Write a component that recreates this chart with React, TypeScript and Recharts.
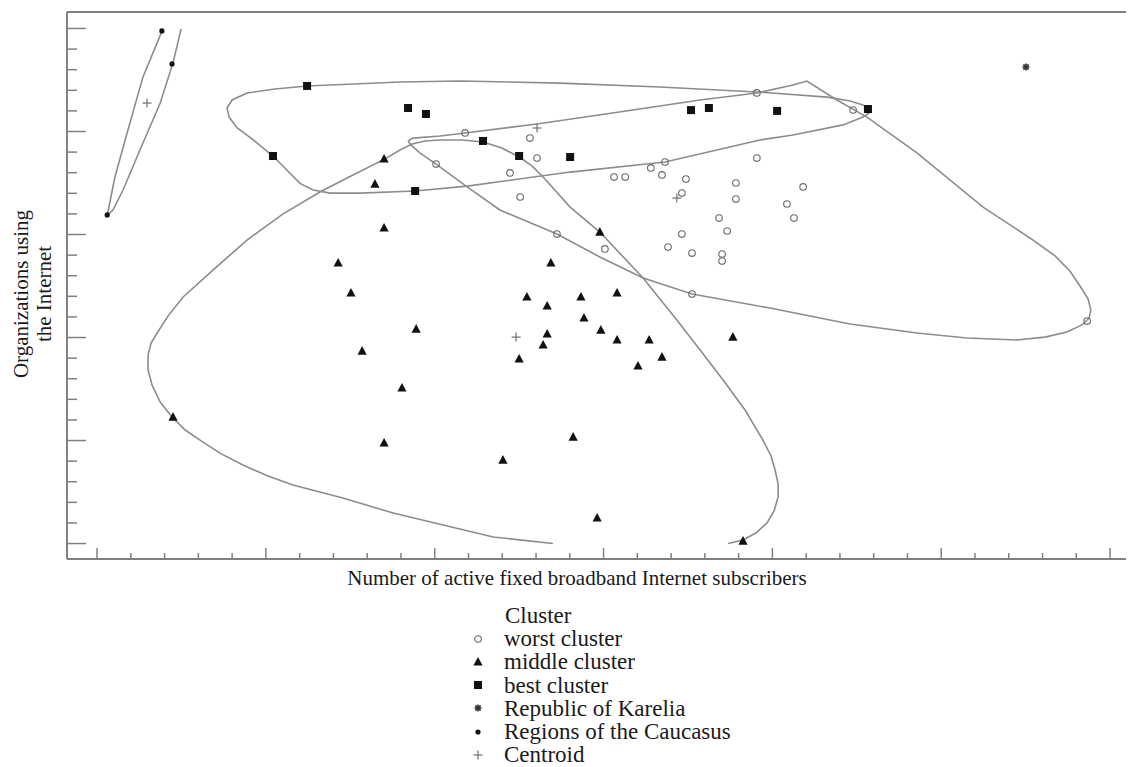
import { ScatterChart, Scatter, XAxis, YAxis } from "recharts";

const FRAME = "#808080";
const HULL = "#8c8c8c";
const INK = "#111111";
const SERIF = '"Liberation Serif", "Times New Roman", Times, serif';

// axis units: one minor tick = 1 (the original prints no tick labels)
const xTicks = [0, 1, 2, 3, 4, 5, 6, 7, 8, 9, 10, 11, 12, 13, 14, 15, 16, 17, 18, 19, 20, 21, 22, 23, 24, 25, 26, 27, 28, 29, 30];
const yTicks = [0, 1, 2, 3, 4, 5, 6, 7, 8, 9, 10, 11, 12, 13, 14, 15, 16, 17, 18, 19, 20, 21, 22, 23, 24, 25];
const xDomain: [number, number] = [-0.89, 30.62];
const yDomain: [number, number] = [-0.75, 25.8];

const worstCluster: [number, number][] = [
  [10.9, 19.93], [10.04, 18.42], [12.82, 19.68], [13.03, 18.71], [12.23, 17.99],
  [12.53, 16.82], [13.62, 15.02], [15.04, 14.3], [15.31, 17.79], [15.64, 17.79],
  [16.4, 18.23], [16.73, 17.89], [16.82, 18.52], [17.44, 17.69], [17.32, 17.01],
  [17.32, 15.02], [16.91, 14.39], [17.62, 14.1], [18.42, 15.8], [18.66, 15.17],
  [18.51, 14.05], [18.51, 13.71], [18.92, 17.5], [18.92, 16.72], [19.54, 18.71],
  [20.43, 16.48], [20.64, 15.8], [20.91, 17.31], [19.54, 21.87], [17.62, 12.11],
  [22.39, 21.04], [29.32, 10.8],
];

const middleCluster: [number, number][] = [
  [8.5, 18.67], [8.23, 17.45], [8.5, 15.32], [7.14, 13.62], [7.52, 12.16],
  [7.85, 9.34], [9.45, 10.41], [9.03, 7.55], [2.25, 6.14], [8.5, 4.88],
  [12.02, 4.05], [13.44, 13.62], [12.73, 11.97], [13.33, 11.53], [14.33, 11.97],
  [15.4, 12.16], [14.42, 10.95], [14.92, 10.36], [13.33, 10.17], [13.21, 9.64],
  [15.4, 9.88], [16.35, 9.88], [12.5, 8.96], [16.73, 9.05], [16.02, 8.62],
  [18.83, 10.02], [14.89, 15.12], [14.1, 5.17], [14.81, 1.24], [19.13, 0.12],
];

const bestCluster: [number, number][] = [
  [6.22, 22.21], [9.21, 21.14], [9.74, 20.85], [5.21, 18.81], [11.43, 19.54],
  [12.5, 18.81], [14.01, 18.76], [9.42, 17.11], [17.59, 21.04], [18.12, 21.14],
  [20.14, 21.0], [22.83, 21.09],
];

const karelia: [number, number][] = [[27.51, 23.13]];

const caucasus: [number, number][] = [[1.92, 24.88], [2.22, 23.28], [0.3, 15.95]];

const centroids: [number, number][] = [[1.48, 21.38], [13.03, 20.17], [17.17, 16.77], [12.41, 10.02]];

// cluster outlines
const caucasusHull: [number, number][] = [
  [1.95, 24.98], [1.36, 22.65], [0.89, 19.93], [0.53, 17.79], [0.3, 15.92],
  [0.47, 16.19], [0.77, 17.16], [1.27, 19.1], [1.87, 21.38], [2.25, 23.33], [2.49, 24.98],
];

const bestHull: [number, number][] = [
  [10.75, 22.45], [13.71, 22.35], [16.67, 22.16], [19.54, 21.92], [21.62, 21.67],
  [22.3, 21.48], [22.68, 21.29], [22.86, 21.09], [22.86, 20.9], [22.68, 20.7],
  [22.39, 20.51], [22.09, 20.32], [20.61, 19.83], [19.63, 19.59], [16.82, 18.52],
  [14.01, 18.03], [10.96, 17.35], [9.42, 17.11], [7.79, 17.01], [6.9, 17.01],
  [6.4, 17.16], [6.01, 17.48], [5.21, 18.81], [4.56, 19.68], [4.15, 20.17],
  [3.91, 20.7], [3.85, 21.14], [4.0, 21.53], [4.44, 21.87], [5.27, 22.06],
  [6.22, 22.21], [8.97, 22.4], [10.75, 22.45],
];

const worstHull: [number, number][] = [
  [9.21, 19.54], [9.36, 19.68], [10.16, 19.78], [10.9, 19.93], [13.03, 20.36],
  [15.87, 21.04], [17.86, 21.53], [19.54, 21.87], [20.61, 22.26], [21.02, 22.45],
  [21.91, 21.53], [22.8, 20.7], [24.28, 18.96], [26.24, 16.33], [27.72, 14.73],
  [28.37, 13.96], [28.81, 13.23], [29.11, 12.5], [29.35, 11.87], [29.43, 11.33],
  [29.38, 10.95], [29.17, 10.61], [28.72, 10.27], [28.07, 10.02], [27.24, 9.88],
  [25.76, 9.98], [24.28, 10.22], [22.3, 10.66], [19.93, 11.43], [17.62, 12.11],
  [16.17, 12.89], [14.89, 13.91], [13.62, 15.02], [11.93, 16.19], [10.96, 17.31],
  [10.04, 18.42], [9.56, 18.96], [9.3, 19.34], [9.21, 19.54],
];

const middleHull: [number, number][] = [
  [13.5, 0], [11.73, 0.32], [10.25, 0.9], [8.77, 1.48], [7.28, 2.21],
  [5.8, 2.84], [5.06, 3.28], [4.32, 3.81], [3.64, 4.39], [3.05, 5.02],
  [2.61, 5.51], [2.22, 6.14], [1.87, 6.87], [1.63, 7.69], [1.51, 8.42],
  [1.51, 9.15], [1.6, 9.73], [1.78, 10.22], [2.1, 11.04], [2.55, 11.97],
  [3.44, 13.28], [4.44, 14.73], [5.51, 16.0], [6.6, 17.06], [7.58, 17.89],
  [8.53, 18.67], [8.97, 19.1], [9.33, 19.39], [9.71, 19.54], [10.16, 19.59],
  [10.81, 19.59], [11.43, 19.49], [11.99, 19.2], [12.5, 18.76], [12.88, 18.33],
  [13.21, 17.79], [14.01, 16.33], [14.89, 15.12], [16.17, 12.89], [17.17, 10.85],
  [17.86, 9.39], [18.54, 7.94], [19.19, 6.48], [19.72, 5.02], [19.96, 4.25],
  [20.08, 3.57], [20.17, 2.89], [20.17, 2.26], [20.05, 1.58], [19.84, 1.0],
  [19.51, 0.51], [19.13, 0.17], [18.69, 0],
];

const pts = (arr: [number, number][]) => arr.map(([x, y]) => ({ x, y }));

const OpenCircle = ({ cx, cy }: any) => (
  <circle cx={cx} cy={cy} r={3.3} fill="none" stroke="#6a6a6a" strokeWidth={1.1} />
);
const Triangle = ({ cx, cy }: any) => (
  <path d={`M${cx},${cy - 5}L${cx + 4.6},${cy + 3.6}L${cx - 4.6},${cy + 3.6}Z`} fill={INK} />
);
const Square = ({ cx, cy }: any) => <rect x={cx - 4} y={cy - 4} width={8} height={8} fill={INK} />;
const Dot = ({ cx, cy }: any) => <circle cx={cx} cy={cy} r={2.6} fill={INK} />;
const Asterisk = ({ cx, cy }: any) => (
  <g stroke="#333" strokeWidth={1.6}>
    <line x1={cx - 3.5} x2={cx + 3.5} y1={cy} y2={cy} />
    <line x1={cx} x2={cx} y1={cy - 3.5} y2={cy + 3.5} />
    <line x1={cx - 2.6} x2={cx + 2.6} y1={cy - 2.6} y2={cy + 2.6} />
    <line x1={cx - 2.6} x2={cx + 2.6} y1={cy + 2.6} y2={cy - 2.6} />
  </g>
);
const Plus = ({ cx, cy }: any) => (
  <g stroke="#7a7a7a" strokeWidth={1.3}>
    <line x1={cx - 4.5} x2={cx + 4.5} y1={cy} y2={cy} />
    <line x1={cx} x2={cx} y1={cy - 4.5} y2={cy + 4.5} />
  </g>
);
const NoMark = () => <g />;

const isMajor = (v: number) => v % 5 === 0;

const BottomTick = ({ x, y, payload }: any) => (
  <line x1={x} x2={x} y1={y} y2={y - (isMajor(payload.value) ? 11 : 6)} stroke={FRAME} strokeWidth={1.5} />
);
const TopTick = ({ x, y, payload }: any) => (
  <line x1={x} x2={x} y1={y} y2={y + (isMajor(payload.value) ? 10 : 5)} stroke={FRAME} strokeWidth={1.5} />
);
const LeftTick = ({ x, y, payload }: any) => (
  <line x1={x} x2={x + (isMajor(payload.value) ? 19 : 10)} y1={y} y2={y} stroke={FRAME} strokeWidth={1.5} />
);
const RightTick = ({ x, y, payload }: any) => (
  <line x1={x} x2={x - (isMajor(payload.value) ? 11 : 4)} y1={y} y2={y} stroke={FRAME} strokeWidth={1.5} />
);

const XTitle = () => (
  <text x={569} y={570} textAnchor="middle" dominantBaseline="central" fontFamily={SERIF} fontSize={21} fill="#1a1a1a">
    Number of active fixed broadband Internet subscribers
  </text>
);

const YTitle = () => (
  <g fontFamily={SERIF} fontSize={21} fill="#1a1a1a">
    <text x={13} y={286} transform="rotate(-90 13 286)" textAnchor="middle" dominantBaseline="central">
      Organizations using
    </text>
    <text x={36} y={286} transform="rotate(-90 36 286)" textAnchor="middle" dominantBaseline="central">
      the Internet
    </text>
  </g>
);

const legendItems = [
  { label: "worst cluster", Mark: OpenCircle },
  { label: "middle cluster", Mark: Triangle },
  { label: "best cluster", Mark: Square },
  { label: "Republic of Karelia", Mark: Asterisk },
  { label: "Regions of the Caucasus", Mark: Dot },
  { label: "Centroid", Mark: Plus },
];

const hullLine = { stroke: HULL, strokeWidth: 1.6 };

export default function App() {
  return (
    <div style={{ position: "relative", width: 1126, height: 759, fontFamily: SERIF, color: "#1a1a1a" }}>
      <ScatterChart width={1126} height={591} margin={{ top: 0, right: 0, bottom: 0, left: 0 }}>
        <XAxis
          xAxisId="b"
          type="number"
          dataKey="x"
          domain={xDomain}
          ticks={xTicks}
          interval={0}
          tickSize={0}
          tickMargin={0}
          tickLine={false}
          tick={BottomTick}
          axisLine={{ stroke: FRAME, strokeWidth: 2 }}
          height={40}
          label={XTitle}
        />
        <XAxis
          xAxisId="t"
          orientation="top"
          type="number"
          dataKey="x"
          domain={xDomain}
          ticks={xTicks}
          interval={0}
          tickSize={0}
          tickMargin={0}
          tickLine={false}
          tick={TopTick}
          axisLine={{ stroke: FRAME, strokeWidth: 2 }}
          height={4}
        />
        <YAxis
          yAxisId="l"
          type="number"
          dataKey="y"
          domain={yDomain}
          ticks={yTicks}
          interval={0}
          tickSize={0}
          tickMargin={0}
          tickLine={false}
          tick={LeftTick}
          axisLine={{ stroke: FRAME, strokeWidth: 2 }}
          width={59}
          label={YTitle}
        />
        <YAxis
          yAxisId="r"
          orientation="right"
          type="number"
          dataKey="y"
          domain={yDomain}
          ticks={yTicks}
          interval={0}
          tickSize={0}
          tickMargin={0}
          tickLine={false}
          tick={RightTick}
          axisLine={{ stroke: FRAME, strokeWidth: 2 }}
          width={3}
        />

        <Scatter xAxisId="b" yAxisId="l" data={pts(caucasusHull)} line={hullLine} lineJointType="linear" shape={NoMark} isAnimationActive={false} />
        <Scatter xAxisId="b" yAxisId="l" data={pts(bestHull)} line={hullLine} lineJointType="linear" shape={NoMark} isAnimationActive={false} />
        <Scatter xAxisId="b" yAxisId="l" data={pts(worstHull)} line={hullLine} lineJointType="linear" shape={NoMark} isAnimationActive={false} />
        <Scatter xAxisId="b" yAxisId="l" data={pts(middleHull)} line={hullLine} lineJointType="linear" shape={NoMark} isAnimationActive={false} />

        <Scatter xAxisId="b" yAxisId="l" name="worst cluster" data={pts(worstCluster)} shape={OpenCircle} isAnimationActive={false} />
        <Scatter xAxisId="b" yAxisId="l" name="middle cluster" data={pts(middleCluster)} shape={Triangle} isAnimationActive={false} />
        <Scatter xAxisId="b" yAxisId="l" name="best cluster" data={pts(bestCluster)} shape={Square} isAnimationActive={false} />
        <Scatter xAxisId="b" yAxisId="l" name="Republic of Karelia" data={pts(karelia)} shape={Asterisk} isAnimationActive={false} />
        <Scatter xAxisId="b" yAxisId="l" name="Regions of the Caucasus" data={pts(caucasus)} shape={Dot} isAnimationActive={false} />
        <Scatter xAxisId="b" yAxisId="l" name="Centroid" data={pts(centroids)} shape={Plus} isAnimationActive={false} />
      </ScatterChart>

      <div style={{ position: "absolute", left: 462, top: 596, fontSize: 23, lineHeight: "23.2px", whiteSpace: "nowrap" }}>
        <div style={{ paddingLeft: 35 }}>Cluster</div>
        {legendItems.map(({ label, Mark }) => (
          <div key={label} style={{ display: "flex", alignItems: "center", height: 23.2 }}>
            <svg width={16} height={16} style={{ flexShrink: 0 }}>
              <Mark cx={8} cy={8} />
            </svg>
            <span style={{ marginLeft: 18 }}>{label}</span>
          </div>
        ))}
      </div>
    </div>
  );
}
